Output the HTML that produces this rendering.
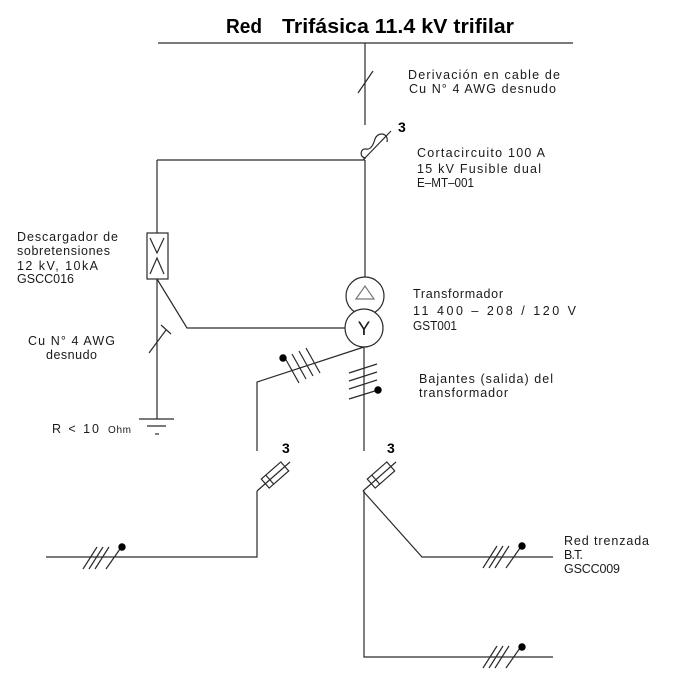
<!DOCTYPE html>
<html>
<head>
<meta charset="utf-8">
<style>
  html,body{margin:0;padding:0;background:#fff;}
  svg{display:block;}
  .t{font-family:"Liberation Sans",sans-serif;font-size:12.5px;fill:#1a1a1a;}
  .b{font-family:"Liberation Sans",sans-serif;font-weight:bold;fill:#000;}
</style>
</head>
<body>
<svg width="675" height="700" viewBox="0 0 675 700" xmlns="http://www.w3.org/2000/svg">
  <rect width="675" height="700" fill="#fff"/>

  <!-- Title -->
  <text class="b" x="226" y="33" font-size="20" textLength="36" lengthAdjust="spacingAndGlyphs">Red</text>
  <text class="b" x="282" y="33" font-size="20" textLength="232" lengthAdjust="spacingAndGlyphs">Trifásica 11.4 kV trifilar</text>

  <g stroke="#2a2a2a" stroke-width="1.2" fill="none" stroke-linecap="butt">
    <!-- top bus -->
    <line x1="158" y1="43" x2="573" y2="43"/>
    <!-- derivation vertical -->
    <line x1="365" y1="43" x2="365" y2="125"/>
    <line x1="358" y1="93" x2="373" y2="71"/>
    <!-- cutout fuse -->
    <line x1="363" y1="160" x2="391" y2="131"/>
    <path d="M 387 142 C 389 133, 378 131, 375 139 C 373 146, 370 150, 366 149 C 360 148, 359 158, 366 158"/>
    <!-- horizontal to arrester -->
    <line x1="157" y1="160" x2="365" y2="160"/>
    <line x1="365" y1="160" x2="365" y2="277"/>
    <!-- arrester vertical -->
    <line x1="157" y1="160" x2="157" y2="233"/>
    <line x1="157" y1="279" x2="157" y2="419"/>
    <rect x="147" y="233" width="21" height="46" fill="#fff"/>
    <polyline points="150,238 157,253 164,238"/>
    <polyline points="150,274 157,258 164,274"/>
    <!-- arrester to neutral -->
    <polyline points="157,279 187,328 345,328"/>
    <!-- ground wire tick -->
    <line x1="149" y1="353" x2="166" y2="330"/>
    <line x1="161" y1="325" x2="171" y2="334"/>
    <!-- ground -->
    <line x1="139" y1="419" x2="174" y2="419"/>
    <line x1="147" y1="426" x2="166" y2="426"/>
    <line x1="155" y1="434" x2="159" y2="434"/>

    <!-- transformer -->
    <circle cx="365" cy="296" r="19"/>
    <circle cx="364" cy="328" r="19" fill="#fff"/>
    <polygon points="356,299 365,286 374,299" stroke="#777"/>

    <!-- outputs -->
    <line x1="364" y1="347" x2="364" y2="451"/>
    <polyline points="364,347 257,382 257,451"/>
    <!-- ticks on diagonal -->
    <line x1="285" y1="358" x2="299" y2="383"/>
    <line x1="292" y1="354" x2="306" y2="379"/>
    <line x1="299" y1="351" x2="313" y2="376"/>
    <line x1="306" y1="348" x2="320" y2="373"/>
    <!-- ticks on vertical -->
    <line x1="349" y1="373" x2="377" y2="364"/>
    <line x1="349" y1="381" x2="377" y2="372"/>
    <line x1="349" y1="389" x2="377" y2="380"/>
    <line x1="349" y1="399" x2="378" y2="390"/>

    <!-- lower left fuse -->
    <line x1="257" y1="491" x2="290" y2="462"/>
    <g transform="rotate(-41.3 275 475)">
      <rect x="262" y="469" width="26" height="12"/>
      <line x1="268" y1="469" x2="268" y2="481"/>
    </g>
    <!-- lower right fuse -->
    <line x1="363" y1="491" x2="396" y2="462"/>
    <g transform="rotate(-41.3 381 475)">
      <rect x="368" y="469" width="26" height="12"/>
      <line x1="374" y1="469" x2="374" y2="481"/>
    </g>

    <!-- left LV -->
    <polyline points="257,491 257,557 46,557"/>
    <line x1="83" y1="569" x2="97" y2="547"/>
    <line x1="89" y1="569" x2="103" y2="547"/>
    <line x1="95" y1="569" x2="109" y2="547"/>
    <line x1="106" y1="569" x2="120" y2="549"/>

    <!-- right LV -->
    <polyline points="363,491 422,557 553,557"/>
    <line x1="483" y1="568" x2="497" y2="546"/>
    <line x1="489" y1="568" x2="503" y2="546"/>
    <line x1="495" y1="568" x2="509" y2="546"/>
    <line x1="506" y1="568" x2="520" y2="548"/>

    <polyline points="364,491 364,657 553,657"/>
    <line x1="483" y1="668" x2="497" y2="646"/>
    <line x1="489" y1="668" x2="503" y2="646"/>
    <line x1="495" y1="668" x2="509" y2="646"/>
    <line x1="506" y1="668" x2="520" y2="648"/>
  </g>

  <!-- dots -->
  <g fill="#000">
    <circle cx="283" cy="358" r="3.7"/>
    <circle cx="378" cy="390" r="3.7"/>
    <circle cx="122" cy="547" r="3.7"/>
    <circle cx="522" cy="546" r="3.7"/>
    <circle cx="522" cy="647" r="3.7"/>
  </g>

  <!-- Y -->
  <text class="t" x="364" y="335" text-anchor="middle" style="font-size:19px">Y</text>

  <!-- bold 3s -->
  <text class="b" x="398" y="132" font-size="14">3</text>
  <text class="b" x="282" y="453" font-size="14">3</text>
  <text class="b" x="387" y="453" font-size="14">3</text>

  <!-- labels -->
  <text class="t" x="408" y="79" textLength="152" lengthAdjust="spacing">Derivación en cable de</text>
  <text class="t" x="409" y="93" textLength="147" lengthAdjust="spacing">Cu N° 4 AWG desnudo</text>

  <text class="t" x="417" y="157" textLength="128" lengthAdjust="spacing">Cortacircuito 100 A</text>
  <text class="t" x="417" y="173" textLength="124" lengthAdjust="spacing">15 kV Fusible dual</text>
  <text class="t" x="417" y="187" textLength="57" lengthAdjust="spacingAndGlyphs">E–MT–001</text>

  <text class="t" x="17" y="241" textLength="101" lengthAdjust="spacing">Descargador de</text>
  <text class="t" x="17" y="255" textLength="93" lengthAdjust="spacing">sobretensiones</text>
  <text class="t" x="17" y="270" textLength="81" lengthAdjust="spacing">12 kV, 10kA</text>
  <text class="t" x="17" y="283" textLength="57" lengthAdjust="spacing">GSCC016</text>

  <text class="t" x="28" y="345" textLength="87" lengthAdjust="spacing">Cu N° 4 AWG</text>
  <text class="t" x="46" y="359" textLength="51" lengthAdjust="spacing">desnudo</text>

  <text class="t" x="52" y="433" textLength="47" lengthAdjust="spacing">R &lt; 10</text>
  <text class="t" x="108" y="433" style="font-size:10px" textLength="23" lengthAdjust="spacing">Ohm</text>

  <text class="t" x="413" y="298" textLength="90" lengthAdjust="spacing">Transformador</text>
  <text class="t" x="413" y="315" textLength="163" lengthAdjust="spacing">11 400 – 208 / 120 V</text>
  <text class="t" x="413" y="330" textLength="44" lengthAdjust="spacingAndGlyphs">GST001</text>

  <text class="t" x="419" y="383" textLength="134" lengthAdjust="spacing">Bajantes (salida) del</text>
  <text class="t" x="419" y="397" textLength="89" lengthAdjust="spacing">transformador</text>

  <text class="t" x="564" y="545" textLength="85" lengthAdjust="spacing">Red trenzada</text>
  <text class="t" x="564" y="559" textLength="19" lengthAdjust="spacing">B.T.</text>
  <text class="t" x="564" y="573" textLength="56" lengthAdjust="spacing">GSCC009</text>
</svg>
</body>
</html>
